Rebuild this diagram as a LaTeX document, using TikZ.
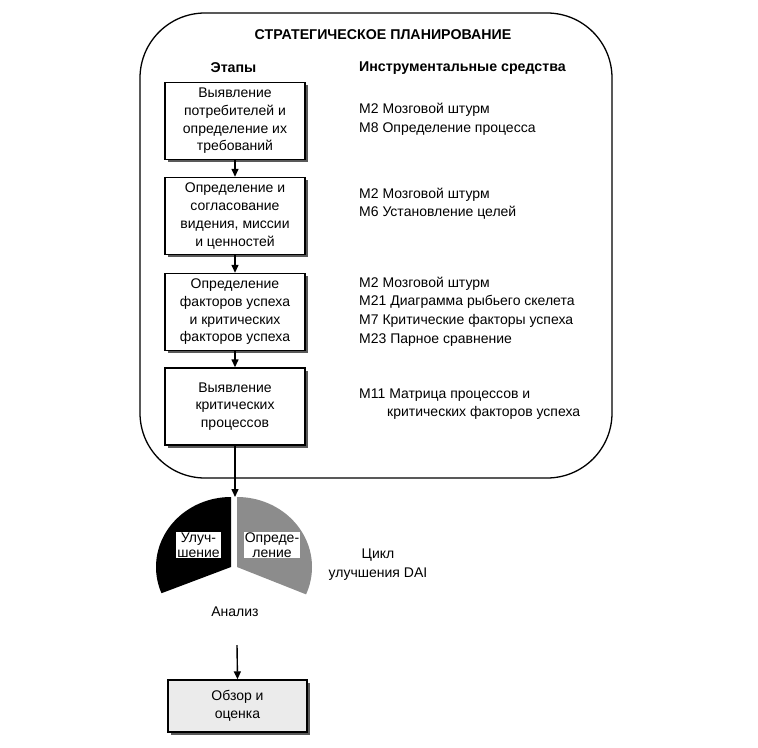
\documentclass[tikz,border=0pt]{standalone}
\usepackage{fontspec}
\setmainfont{Liberation Sans}
\usetikzlibrary{arrows.meta,shadows}
\begin{document}
\begin{tikzpicture}[x=1bp,y=-1bp,
  every node/.style={font=\fontsize{14bp}{17.7bp}\selectfont, inner sep=0pt},
  stepbox/.style={draw, line width=1.4bp, fill=white, minimum width=140bp, minimum height=77bp, align=center,
     drop shadow={shadow xshift=2.5bp, shadow yshift=-2.5bp, fill=black!65, opacity=1}},
  tool/.style={anchor=west, text height=10bp, text depth=3bp},
  hdr/.style={font=\fontsize{14.2bp}{15bp}\selectfont\bfseries},
  arr/.style={line width=1.4bp, -{Triangle[length=8bp,width=7bp]}},
  lbl/.style={fill=white, align=center, inner sep=1bp, font=\fontsize{14bp}{14.5bp}\selectfont}
]
\useasboundingbox (0,0) rectangle (758,748);
\fill[white] (0,0) rectangle (758,748);

% frame
\node[draw, line width=1.3bp, rounded corners=65bp, minimum width=472bp, minimum height=465bp] (frame) at (376,245.5) {};

\node[hdr] (title) at (383,35) {СТРАТЕГИЧЕСКОЕ ПЛАНИРОВАНИЕ};
\node[hdr] (etapy) at (233.5,68) {Этапы};
\node[hdr, anchor=west] (instr) at (359,68) {Инструментальные средства};

% stages
\node[stepbox] (b1) at (235,121) {Выявление\\потребителей и\\определение их\\требований};
\node[stepbox] (b2) at (235,216) {Определение и\\согласование\\видения, миссии\\и ценностей};
\node[stepbox] (b3) at (235,312) {Определение\\факторов успеха\\и критических\\факторов успеха};
\node[stepbox] (b4) at (235,406.5) {Выявление\\критических\\процессов};

% tools
\node[tool] (t11) at (359,110) {M2 Мозговой штурм};
\node[tool] (t12) at (359,129) {M8 Определение процесса};
\node[tool] (t21) at (359,195) {M2 Мозговой штурм};
\node[tool] (t22) at (359,213) {M6 Установление целей};
\node[tool] (t31) at (359,284) {M2 Мозговой штурм};
\node[tool] (t32) at (359,302) {M21 Диаграмма рыбьего скелета};
\node[tool] (t33) at (359,321) {M7 Критические факторы успеха};
\node[tool] (t34) at (359,340) {M23 Парное сравнение};
\node[tool] (t41) at (359,395) {M11 Матрица процессов и};
\node[tool] (t42) at (387,413) {критических факторов успеха};

% arrows between stages
\draw[arr] (b1) -- (b2);
\draw[arr] (b2) -- (b3);
\draw[arr] (b3) -- (b4);

% DAI cycle pie
\fill[black] (231,567) -- plot[domain=-90:-202, samples=50] ({231+75*cos(\x)},{567+70*sin(\x)}) -- cycle;
\fill[black!45] (237,567) -- plot[domain=-90:23, samples=50] ({237+75*cos(\x)},{567+70*sin(\x)}) -- cycle;
\coordinate (pietop) at (235,497);
\draw[arr] (b4.south) -- (pietop);

\node[lbl] (imp) at (198.5,545) {Улуч-\\шение};
\node[lbl] (def) at (272,545) {Опреде-\\ление};
\node (anal) at (235,612) {Анализ};
\node[align=center, font=\fontsize{14bp}{19bp}\selectfont] (cycle) at (378,565) {Цикл\\улучшения DAI};

% review
\node[stepbox, fill=black!8, minimum width=139bp, minimum height=52bp] (rev) at (237.5,706) {Обзор и\\оценка};
\coordinate (astart) at (237,645);
\draw[arr] (astart) -- (rev.north);

\end{tikzpicture}
\end{document}
